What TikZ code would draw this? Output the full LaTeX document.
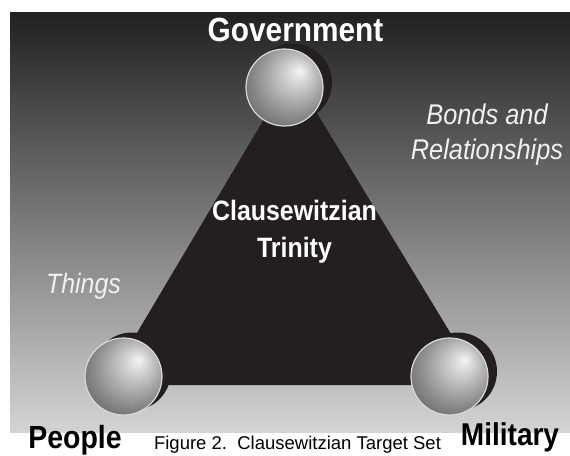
\documentclass[tikz,border=0pt]{standalone}
\usepackage{fontspec}
\setmainfont{Liberation Sans}
\newfontfamily\narrowfont[FakeStretch=0.89]{Liberation Sans}
\usepackage{xcolor}
\usetikzlibrary{calc,positioning}

\definecolor{inkblack}{HTML}{231F20}
\definecolor{paleink}{HTML}{F0F0F0}
\pgfdeclareradialshading{orbshade}{\pgfqpoint{10bp}{11bp}}{color(0bp)=(black!4); color(7bp)=(black!17); color(24bp)=(black!45); color(40bp)=(black!68); color(50bp)=(black!70)}

\tikzset{
	ball/.style={circle, inner sep=0pt, minimum size=77pt, shading=orbshade, draw=black!15, line width=1.2pt},
	corner/.style={font=\narrowfont\bfseries\fontsize{32}{36}\selectfont, anchor=base},
	aspect/.style={font=\narrowfont\itshape\fontsize{28.5}{35}\selectfont, text=paleink, align=center, anchor=base}
}

\begin{document}
\begin{tikzpicture}[x=1pt,y=-1pt]
	\useasboundingbox (0,0) rectangle (570,455);
	% backdrop
	\shade[top color=black!87, bottom color=black!17] (10,12) rectangle (570,432);
	% the trinity
	\coordinate (apex) at (292,72);
	\coordinate (left) at (106,385);
	\coordinate (right) at (482,385);
	\fill[inkblack] (left) -- (right) -- (apex) -- cycle;
	% spheres with their shadows
	\foreach \name/\x/\y in {gov/284.5/87.5, ppl/123.5/376.5, mil/449.5/376.5} {
		\fill[inkblack] (\x+8.5,\y-5) circle (39);
		\node[ball] (\name) at (\x,\y) {};
	}
	\node[corner, text=white, font=\narrowfont\bfseries\fontsize{33.5}{40}\selectfont] (govlabel) at (295.5,41) {Government};
	\node[corner] (ppllabel) at (75,448) {People};
	\node[corner, font=\narrowfont\bfseries\fontsize{31.5}{36}\selectfont] (millabel) at (510,445) {Military};
	\node[anchor=base, align=center, text=white, font=\narrowfont\bfseries\fontsize{28}{37}\selectfont] (trinity) at (294.5,257) {Clausewitzian\\Trinity};
	\node[aspect, font=\narrowfont\itshape\fontsize{28}{35}\selectfont] (things) at (83.5,293) {Things};
	\node[aspect] (bonds) at (487,159) {Bonds and\\Relationships};
	\node[anchor=base, font=\fontsize{18.5}{22}\selectfont] (caption) at (297.5,449.5) {Figure 2.\ \ Clausewitzian Target Set};
\end{tikzpicture}
\end{document}
